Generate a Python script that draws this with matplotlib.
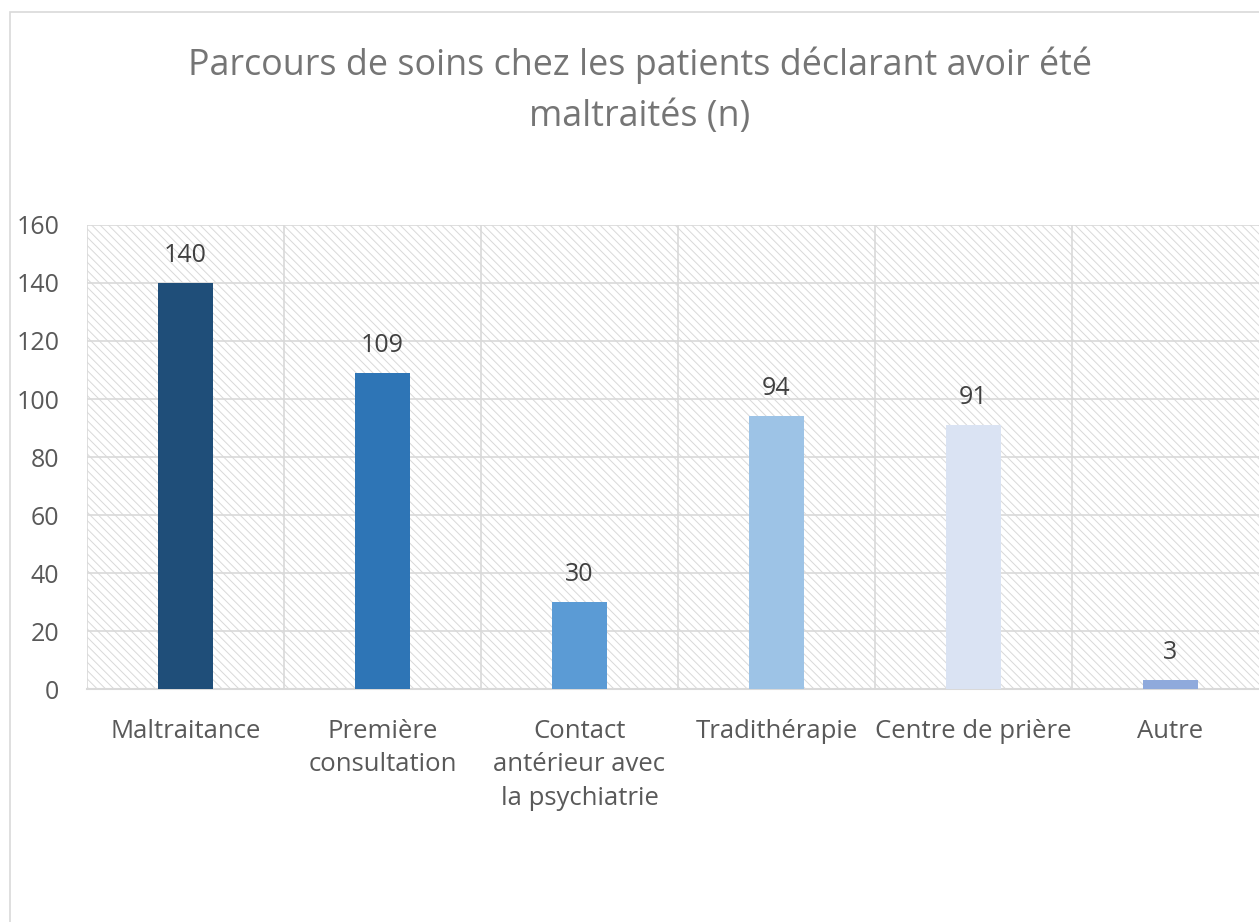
import matplotlib
matplotlib.use("Agg")
import matplotlib.pyplot as plt
from matplotlib.patches import Rectangle

categories = ["Maltraitance", "Première\nconsultation", "Contact\nantérieur avec\nla psychiatrie",
              "Tradithérapie", "Centre de prière", "Autre"]
values = [140, 109, 30, 94, 91, 3]
bar_colors = ["#1F4E79", "#2E75B6", "#5B9BD5", "#9DC3E6", "#DAE3F3", "#8FAADC"]
y_ticks = [0, 20, 40, 60, 80, 100, 120, 140, 160]
title = "Parcours de soins chez les patients déclarant avoir été\nmaltraités (n)"

plt.rcParams["font.family"] = ["Open Sans", "DejaVu Sans"]
plt.rcParams["hatch.linewidth"] = 0.7

W, H = 1259, 922
fig = plt.figure(figsize=(W / 100, H / 100), dpi=100)

# chart border (cropped on the right and bottom)
fig.patches.append(Rectangle((10 / W, -0.1), 1.2, 1 - 12 / H + 0.1,
                             transform=fig.transFigure, fill=False,
                             edgecolor="#d9d9d9", linewidth=1.2))

ax = fig.add_axes([87 / W, 1 - 689 / H, 1182 / W, 464 / H])
ax.set_axisbelow(True)

# hatched plot-area background
ax.add_patch(Rectangle((0, 0), 1, 1, transform=ax.transAxes, facecolor="white",
                       edgecolor="#d9d9d9", hatch="\\\\\\\\", linewidth=0, zorder=0))

x = range(len(categories))
ax.bar(x, values, width=0.275, color=bar_colors, zorder=3)

for xi, v in zip(x, values):
    ax.annotate(str(v), (xi, v), xytext=(0, 11), textcoords="offset points",
                ha="center", va="bottom", fontsize=18, color="#404040", zorder=4)

ax.set_xlim(-0.5, len(categories) - 0.5)
ax.set_ylim(0, 160)
ax.set_yticks(y_ticks)
ax.set_xticks(list(x))
ax.set_xticklabels(categories, fontsize=18.5, color="#595959", linespacing=1.45, va="top")
ax.set_xticks([i + 0.5 for i in range(-1, len(categories))], minor=True)
ax.tick_params(axis="y", labelsize=18, labelcolor="#595959", length=0, pad=20)
ax.tick_params(axis="x", which="both", length=0, pad=21.5)

ax.grid(axis="y", color="#d9d9d9", linewidth=1.2)
ax.grid(axis="x", which="minor", color="#d9d9d9", linewidth=1.2)
ax.grid(axis="x", which="major", visible=False)

for side in ["top", "right", "left"]:
    ax.spines[side].set_visible(False)
ax.spines["bottom"].set_color("#d9d9d9")
ax.spines["bottom"].set_linewidth(1.5)

fig.text(640 / W, 1 - 91 / H, title, ha="center", va="center", fontsize=25.8,
         color="#757575", linespacing=1.57)

fig.savefig("out.png", dpi=100)
